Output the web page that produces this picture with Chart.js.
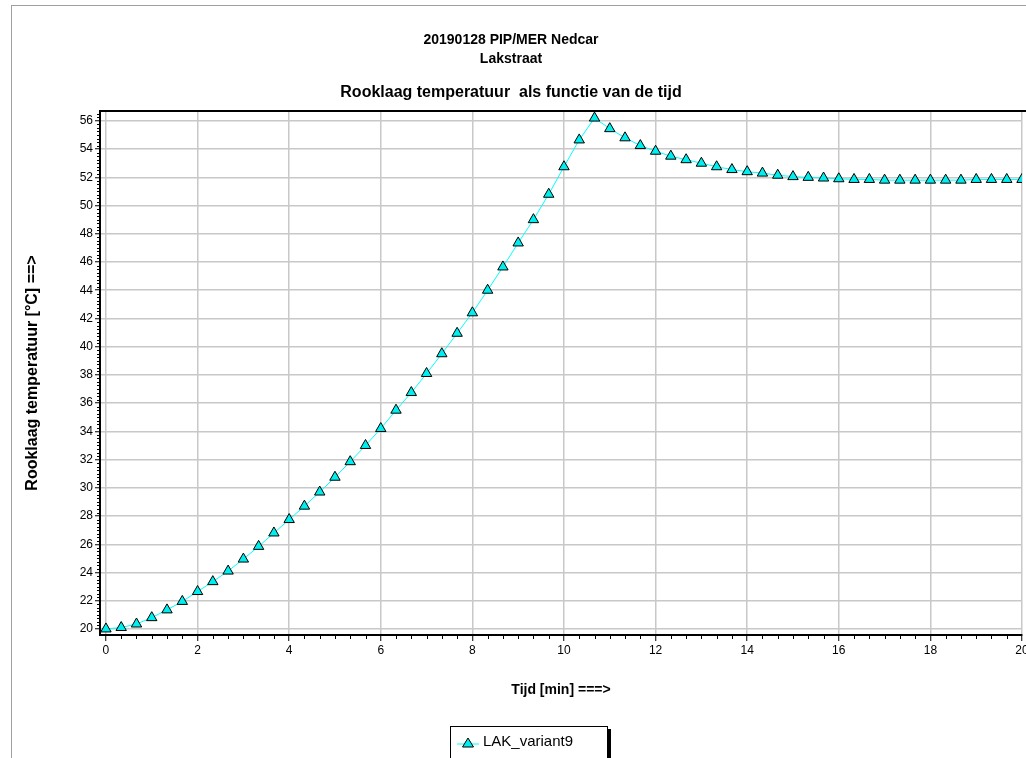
<!DOCTYPE html>
<html>
<head>
<meta charset="utf-8">
<script src="https://cdn.jsdelivr.net/npm/chart.js@4.4.1/dist/chart.umd.min.js"></script>
<style>
  html, body { margin: 0; padding: 0; background: #fff; overflow: hidden; width: 1026px; height: 758px; }
  #wrap { position: relative; width: 1026px; height: 758px; overflow: hidden; }
  #frame { position: absolute; left: 11px; top: 5px; width: 1030px; height: 800px; border-left: 1px solid #a0a0a0; border-top: 1px solid #a0a0a0; }
  #cv { position: absolute; left: 0; top: 0; }
  #legend { position: absolute; left: 450px; top: 726px; width: 156px; height: 40px; border: 1px solid #000; box-shadow: 3px 3px 0 #000; background: #fff;
            font-family: "Liberation Sans", Arial, sans-serif; font-size: 15px; color: #000; }
  #legend svg { position: absolute; left: 5px; top: 8px; }
  #legend span { position: absolute; left: 32px; top: 5px; }
</style>
</head>
<body>
<div id="wrap">
  <div id="frame"></div>
  <canvas id="cv" width="1052" height="758" style="width:1052px;height:758px"></canvas>
  <div id="legend"><svg width="24" height="16"><line x1="1" y1="9" x2="23" y2="9" stroke="#00FFFF" stroke-width="1"/><polygon points="12,3 17.5,12 6.5,12" fill="#00EEEE" stroke="#000" stroke-width="1"/></svg><span>LAK_variant9</span></div>
</div>
<script>
const seriesName = "LAK_variant9";
const timeMin = [0, 0.333, 0.667, 1, 1.333, 1.667, 2, 2.333, 2.667, 3, 3.333, 3.667, 4, 4.333, 4.667, 5, 5.333, 5.667, 6, 6.333, 6.667, 7, 7.333, 7.667, 8, 8.333, 8.667, 9, 9.333, 9.667, 10, 10.333, 10.667, 11, 11.333, 11.667, 12, 12.333, 12.667, 13, 13.333, 13.667, 14, 14.333, 14.667, 15, 15.333, 15.667, 16, 16.333, 16.667, 17, 17.333, 17.667, 18, 18.333, 18.667, 19, 19.333, 19.667, 20];
const tempC = [20.0, 20.1, 20.35, 20.8, 21.35, 21.95, 22.65, 23.35, 24.1, 24.95, 25.85, 26.8, 27.75, 28.7, 29.7, 30.75, 31.85, 33.0, 34.2, 35.5, 36.75, 38.1, 39.5, 40.95, 42.4, 44.0, 45.65, 47.35, 49.0, 50.8, 52.75, 54.65, 56.2, 55.45, 54.8, 54.25, 53.85, 53.5, 53.25, 53.0, 52.75, 52.55, 52.4, 52.3, 52.15, 52.05, 52.0, 51.95, 51.9, 51.85, 51.85, 51.8, 51.8, 51.8, 51.8, 51.8, 51.8, 51.85, 51.85, 51.85, 51.85];
const xTicks = [0, 2, 4, 6, 8, 10, 12, 14, 16, 18, 20];
const yTicks = [20, 22, 24, 26, 28, 30, 32, 34, 36, 38, 40, 42, 44, 46, 48, 50, 52, 54, 56];
const titleLines = ["20190128 PIP/MER Nedcar", "Lakstraat"];
const subtitleText = "Rooklaag temperatuur  als functie van de tijd";
const xTitle = "Tijd [min] ===>";
const yTitle = "Rooklaag temperatuur [°C] ==>";

const FONT = "'Liberation Sans', Arial, sans-serif";
Chart.defaults.font.family = FONT;
Chart.defaults.color = '#000';

const extras = {
  id: 'extras',
  afterDraw(chart) {
    const ctx = chart.ctx, a = chart.chartArea;
    const xs = chart.scales.x, ys = chart.scales.y;
    ctx.save();
    ctx.strokeStyle = '#000'; ctx.lineWidth = 2;
    ctx.beginPath(); ctx.moveTo(a.left - 1, a.top); ctx.lineTo(chart.width, a.top); ctx.stroke();
    ctx.lineWidth = 1;
    ctx.beginPath();
    for (let i = 0; i <= 60; i++) {
      if (i % 6 === 0) continue;
      const px = Math.round(xs.getPixelForValue(i / 3)) + 0.5;
      ctx.moveTo(px, a.bottom); ctx.lineTo(px, a.bottom + 4);
    }
    for (let i = 0; i <= 148; i++) {
      if (i % 8 === 0) continue;
      const v = 20 + i * 0.25;
      if (v < ys.min || v > ys.max) continue;
      const py = Math.round(ys.getPixelForValue(v)) + 0.5;
      ctx.moveTo(a.left - 3, py); ctx.lineTo(a.left, py);
    }
    ctx.stroke();
    ctx.restore();
  }
};

new Chart(document.getElementById('cv'), {
  type: 'line',
  data: {
    datasets: [{
      label: seriesName,
      data: timeMin.map((t, i) => ({ x: t, y: tempC[i] })),
      borderColor: '#00FFFF',
      borderWidth: 1,
      backgroundColor: '#00EEEE',
      pointStyle: 'triangle',
      pointRadius: 6,
      pointBorderColor: '#000',
      pointBorderWidth: 1,
      pointBackgroundColor: '#00EEEE',
      tension: 0
    }]
  },
  options: {
    responsive: false,
    animation: false,
    devicePixelRatio: 1,
    layout: { padding: { left: 0, right: 30, top: 0, bottom: 48 } },
    plugins: {
      legend: { display: false },
      tooltip: { enabled: false },
      title: { display: true, text: titleLines, font: { size: 14, weight: 'bold', lineHeight: '19px' }, padding: { top: 30.5, bottom: 5 } },
      subtitle: { display: true, text: subtitleText, font: { size: 16, weight: 'bold', lineHeight: '19px' }, padding: { top: 10, bottom: 8.5 }, color: '#000' }
    },
    scales: {
      x: {
        type: 'linear', min: -0.13, max: 20.0,
        afterBuildTicks: s => { s.ticks = xTicks.map(v => ({ value: v })); },
        afterFit: s => { s.height = 75; },
        grid: { color: '#c8c8c8', lineWidth: 1.5, tickColor: '#000', tickLength: 6, tickWidth: 1 },
        border: { color: '#000', width: 2 },
        ticks: { font: { size: 12 }, padding: 2, maxRotation: 0, autoSkip: false },
        title: { display: true, text: xTitle, font: { size: 14, weight: 'bold', lineHeight: 1.2 }, padding: { top: 0, bottom: 11.6 } }
      },
      y: {
        type: 'linear', min: 19.57, max: 56.7,
        afterBuildTicks: s => { s.ticks = yTicks.map(v => ({ value: v })); },
        afterFit: s => { s.width = 100; },
        grid: { color: '#c8c8c8', lineWidth: 1.5, tickColor: '#000', tickLength: 5, tickWidth: 1 },
        border: { color: '#000', width: 2 },
        ticks: { font: { size: 12 }, padding: 2, autoSkip: false },
        title: { display: true, text: yTitle, font: { size: 16, weight: 'bold', lineHeight: 1.2 }, padding: { top: 23.4, bottom: 0 } }
      }
    }
  },
  plugins: [extras]
});
</script>
</body>
</html>
